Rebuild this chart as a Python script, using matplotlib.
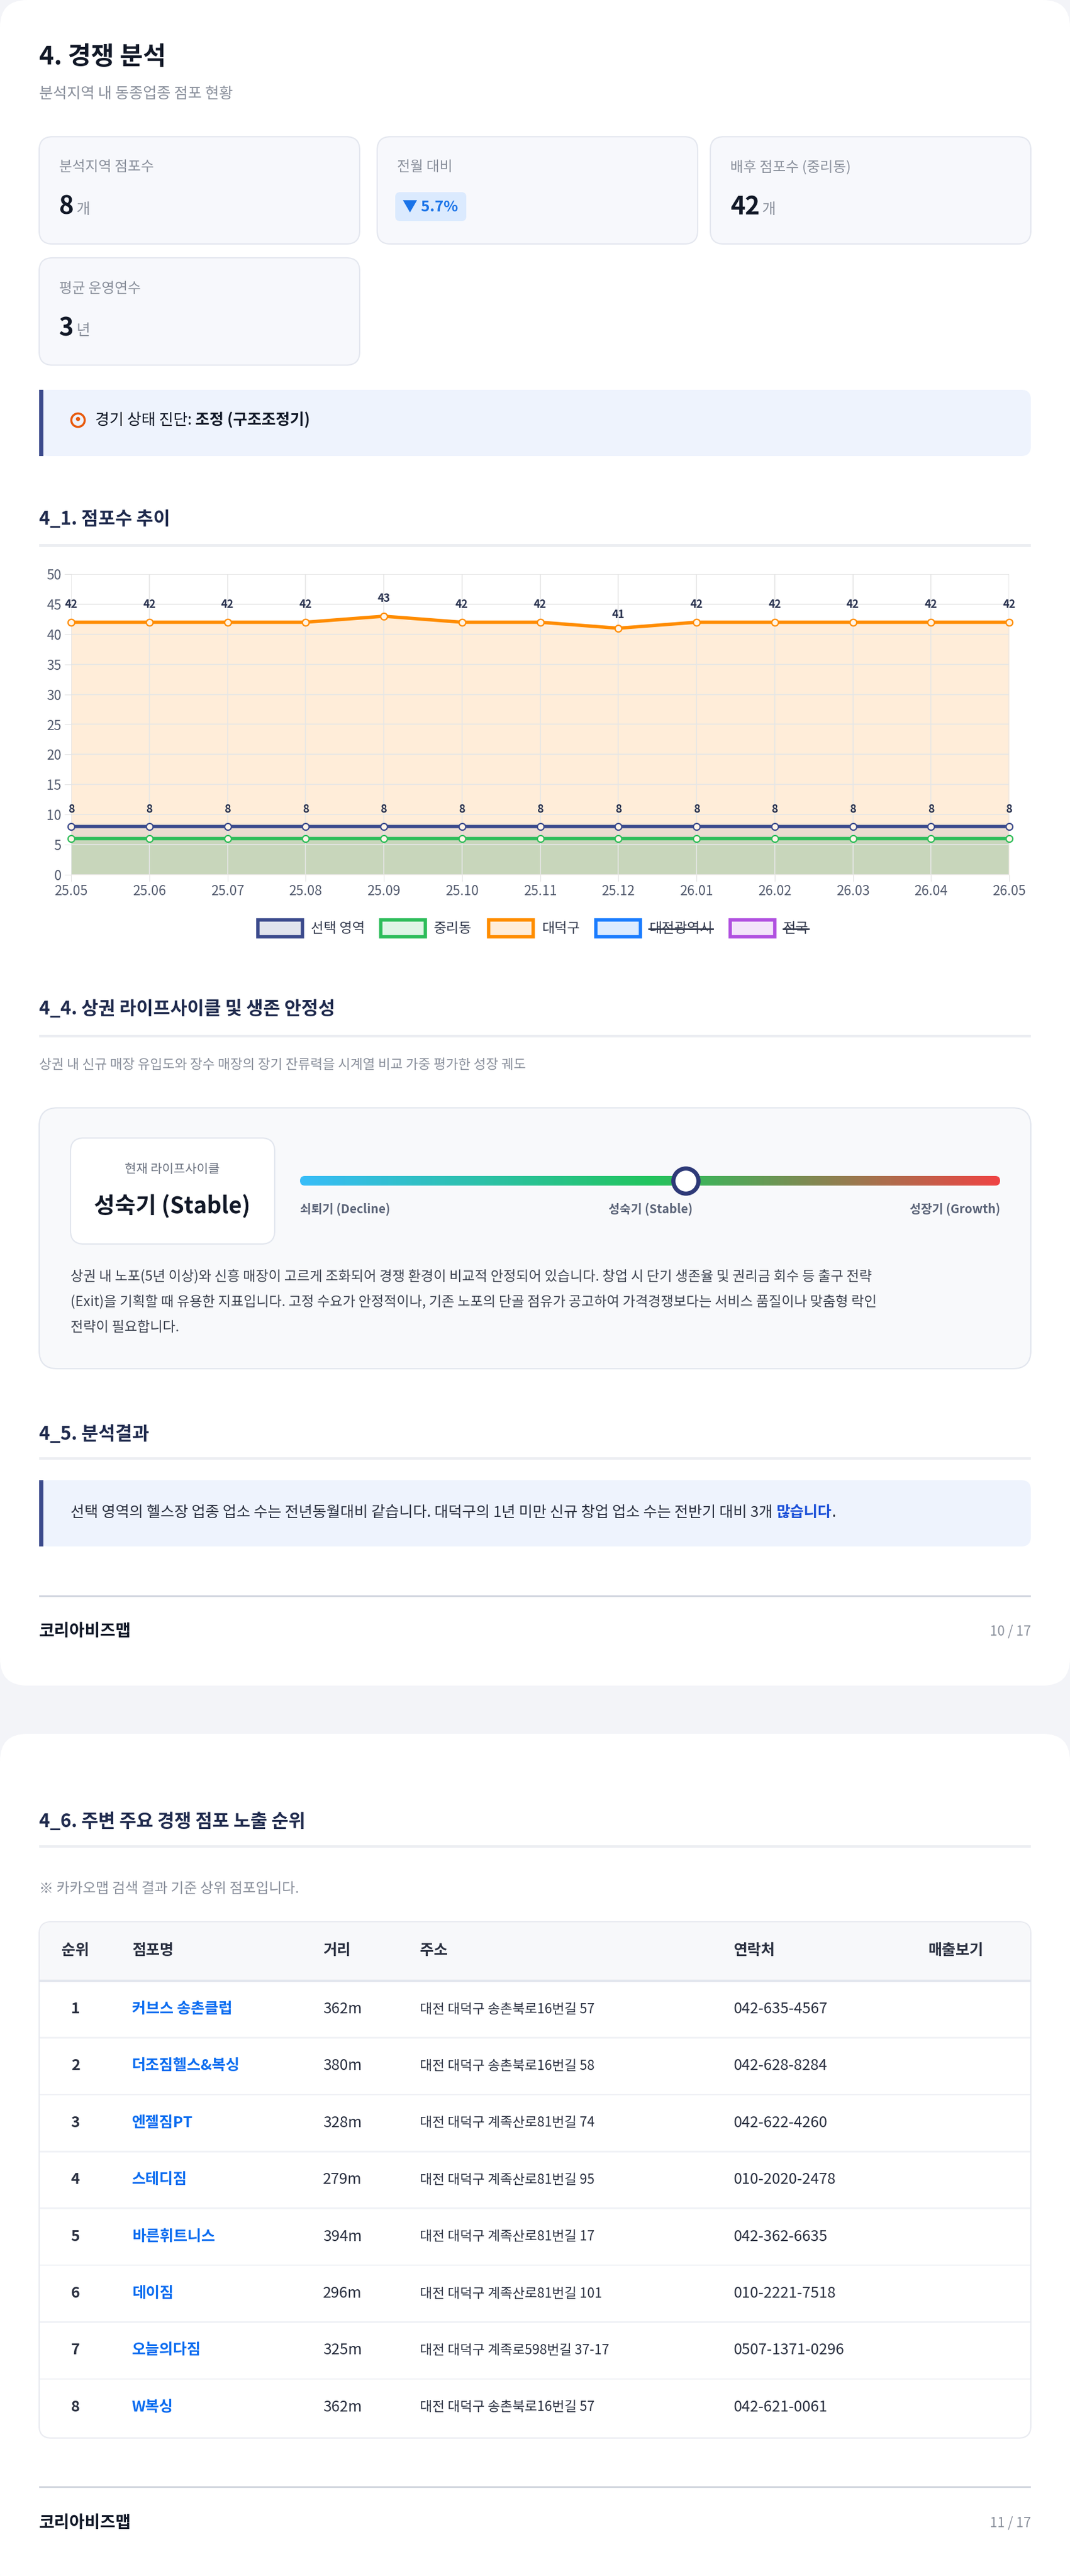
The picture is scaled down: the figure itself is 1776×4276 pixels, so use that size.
import matplotlib
matplotlib.use('Agg')
import matplotlib.pyplot as plt
import numpy as np
from matplotlib.patches import FancyBboxPatch, Rectangle
from matplotlib.colors import LinearSegmentedColormap

plt.rcParams['font.family'] = ['Noto Sans CJK KR', 'DejaVu Sans']

# ---- data ----
months = ['25.05', '25.06', '25.07', '25.08', '25.09', '25.10', '25.11',
          '25.12', '26.01', '26.02', '26.03', '26.04', '26.05']
sel_area = [8, 8, 8, 8, 8, 8, 8, 8, 8, 8, 8, 8, 8]
jungri = [6, 6, 6, 6, 6, 6, 6, 6, 6, 6, 6, 6, 6]
daedeok = [42, 42, 42, 42, 43, 42, 42, 41, 42, 42, 42, 42, 42]
legend_names = ['선택 영역', '중리동', '대덕구', '대전광역시', '전국']
legend_colors = ['#3b4a8c', '#2dbd5a', '#ff8c00', '#1a7cff', '#b050e0']
legend_hidden = [False, False, False, True, True]

kpi_labels = ['분석지역 점포수', '전월 대비', '배후 점포수 (중리동)', '평균 운영연수']
kpi_values = ['8', '5.7%', '42', '3']
kpi_units = ['개', '', '개', '년']

ranks = [1, 2, 3, 4, 5, 6, 7, 8]
shop_names = ['커브스 송촌클럽', '더조짐헬스&복싱', '엔젤짐PT', '스테디짐', '바른휘트니스',
              '데이짐', '오늘의다짐', 'W복싱']
distances = ['362m', '380m', '328m', '279m', '394m', '296m', '325m', '362m']
addresses = ['대전 대덕구 송촌북로16번길 57', '대전 대덕구 송촌북로16번길 58',
             '대전 대덕구 계족산로81번길 74', '대전 대덕구 계족산로81번길 95',
             '대전 대덕구 계족산로81번길 17', '대전 대덕구 계족산로81번길 101',
             '대전 대덕구 계족로598번길 37-17', '대전 대덕구 송촌북로16번길 57']
phones = ['042-635-4567', '042-628-8284', '042-622-4260', '010-2020-2478',
          '042-362-6635', '010-2221-7518', '0507-1371-0296', '042-621-0061']
table_headers = ['순위', '점포명', '거리', '주소', '연락처', '매출보기']

W, H = 1776, 4276
NAVY = '#1f2a4d'
GRAY = '#8a909c'
DARK = '#111827'

fig = plt.figure(figsize=(W / 100, H / 100), dpi=100)
fig.patch.set_facecolor('#f3f4f8')
bg = fig.add_axes([0, 0, 1, 1])
bg.set_xlim(0, W)
bg.set_ylim(H, 0)
bg.axis('off')
fig.canvas.draw()
rend = fig.canvas.get_renderer()


def box(x, y, w, h, fc, ec='none', r=20, lw=1.5, z=1):
    p = FancyBboxPatch((x, y), w, h, boxstyle=f'round,pad=0,rounding_size={r}',
                       fc=fc, ec=ec, lw=lw, zorder=z)
    bg.add_patch(p)


def txt(x, y, s, size=18, color=DARK, weight='normal', ha='left', z=5):
    return bg.text(x, y, s, fontsize=size, color=color, fontweight=weight,
                   ha=ha, va='center', zorder=z)


def width(t):
    return t.get_window_extent(rend).width


# page cards
box(0, 0, W, 2798, 'white', r=45)
box(0, 2878, W, 1440, 'white', r=45)

# header
txt(65, 95, '4. 경쟁 분석', 30, DARK, 'bold')
txt(65, 156, '분석지역 내 동종업종 점포 현황', 18, GRAY)

# KPI cards
kpi_pos = [(65, 227), (626, 227), (1179, 227), (65, 428)]
for i, (x, y) in enumerate(kpi_pos):
    box(x, y, 532, 178, '#f7f8fc', '#e4e7ef', r=22)
    txt(x + 33, y + 51, kpi_labels[i], 17, GRAY)
    if i == 1:
        box(x + 30, y + 92, 118, 48, '#dbeafe', r=8, z=3)
        txt(x + 42, y + 117, '▼ ' + kpi_values[i], 18, '#1a73e8', 'bold')
    else:
        t = txt(x + 33, y + 117, kpi_values[i], 30, DARK, 'bold')
        txt(x + 33 + width(t) + 4, y + 121, kpi_units[i], 18, GRAY)

# alert box
box(65, 647, 1646, 110, '#eef3fd', r=16)
bg.add_patch(Rectangle((65, 647), 7, 110, fc='#3b4a8c', zorder=3))
bg.plot([129], [697], marker='o', ms=16, mfc='none', mec='#e8590c', mew=2.5, zorder=5)
bg.plot([129], [695], marker='o', ms=4, mfc='#e8590c', mec='#e8590c', zorder=5)
t = txt(158, 698, '경기 상태 진단: ', 18.5, DARK)
txt(158 + width(t), 698, '조정 (구조조정기)', 18.5, DARK, 'bold')

# section 4_1
txt(65, 862, '4_1. 점포수 추이', 22, NAVY, 'bold')
bg.add_patch(Rectangle((65, 903), 1646, 5, fc='#eceef2', zorder=2))

# chart
x0, x1, yt, yb = 118, 1675, 953, 1452
ax = fig.add_axes([x0 / W, 1 - yb / H, (x1 - x0) / W, (yb - yt) / H])
ax.set_facecolor('none')
xs = np.arange(len(months))
ax.fill_between(xs, daedeok, 0, color='#ff8c00', alpha=0.15, lw=0, zorder=1)
ax.fill_between(xs, sel_area, 0, color='#3b4a8c', alpha=0.10, lw=0, zorder=1)
ax.fill_between(xs, jungri, 0, color='#2dbd5a', alpha=0.18, lw=0, zorder=1)
for vals, c in [(daedeok, '#ff8c00'), (jungri, '#2dbd5a'), (sel_area, '#3b4a8c')]:
    ax.plot(xs, vals, color=c, lw=4, marker='o', ms=8, mfc='#fff5e8', mec=c,
            mew=1.6, zorder=4, clip_on=False)
for i, v in enumerate(daedeok):
    ax.annotate(str(v), (i, v), xytext=(0, 17 if v >= 42 else 12),
                textcoords='offset points', ha='center', fontsize=13,
                color='#2a3350', fontweight='bold')
for i, v in enumerate(sel_area):
    ax.annotate(str(v), (i, v), xytext=(0, 17), textcoords='offset points',
                ha='center', fontsize=13, color='#2a3350', fontweight='bold')
ax.set_xlim(0, len(months) - 1)
ax.set_ylim(0, 50)
ax.set_yticks(range(0, 51, 5))
ax.set_xticks(xs)
ax.set_xticklabels(months)
ax.tick_params(labelsize=16, colors='#555d70', length=8, color='#e3e3e3')
ax.grid(color='#e6e6e6', lw=1.2)
for s in ax.spines.values():
    s.set_visible(False)

# legend
leg_x = [428, 632, 811, 989, 1212]
for lx, name, c, hid in zip(leg_x, legend_names, legend_colors, legend_hidden):
    bg.add_patch(Rectangle((lx, 1527), 74, 28, fc='white', ec=c, lw=4, zorder=3))
    bg.add_patch(Rectangle((lx, 1527), 74, 28, fc=c, alpha=0.15, lw=0, zorder=3))
    t = txt(lx + 88, 1541, name, 16.5, '#333a4d')
    if hid:
        bg.plot([lx + 88, lx + 88 + width(t)], [1542, 1542], color='#333a4d', lw=2, zorder=6)

# section 4_4
txt(65, 1675, '4_4. 상권 라이프사이클 및 생존 안정성', 22, NAVY, 'bold')
bg.add_patch(Rectangle((65, 1718), 1646, 4, fc='#eceef2', zorder=2))
txt(65, 1768, '상권 내 신규 매장 유입도와 장수 매장의 장기 잔류력을 시계열 비교 가중 평가한 성장 궤도', 16, GRAY)

box(65, 1839, 1646, 433, '#f8f9fb', '#e2e6ee', r=30)
box(117, 1889, 339, 176, 'white', '#e2e6ee', r=22, z=2)
txt(286, 1941, '현재 라이프사이클', 15, '#6b7280', ha='center')
txt(286, 2002, '성숙기 (Stable)', 27, DARK, 'bold', ha='center')

cmap = LinearSegmentedColormap.from_list('lc', ['#38bdf8', '#22c55e', '#ef4444'])
gx0, gx1, gy = 498, 1660, 1960
grad = np.linspace(0, 1, 400).reshape(1, -1)
im = bg.imshow(grad, cmap=cmap, extent=(gx0, gx1, gy + 8, gy - 8), aspect='auto', zorder=3)
clip = FancyBboxPatch((gx0, gy - 8), gx1 - gx0, 16, boxstyle='round,pad=0,rounding_size=8',
                      fc='none', ec='none', transform=bg.transData)
bg.add_patch(clip)
im.set_clip_path(clip)
bg.set_xlim(0, W)
bg.set_ylim(H, 0)
bg.plot([1138], [1960], marker='o', ms=30, mfc='white', mec='#2e3a78', mew=5, zorder=6)
txt(gx0, 2007, '쇠퇴기 (Decline)', 14.5, '#5b6478', 'bold')
txt(1080, 2007, '성숙기 (Stable)', 14.5, '#5b6478', 'bold', ha='center')
txt(gx1, 2007, '성장기 (Growth)', 14.5, '#5b6478', 'bold', ha='right')
para = ['상권 내 노포(5년 이상)와 신흥 매장이 고르게 조화되어 경쟁 환경이 비교적 안정되어 있습니다. 창업 시 단기 생존율 및 권리금 회수 등 출구 전략',
        '(Exit)을 기획할 때 유용한 지표입니다. 고정 수요가 안정적이나, 기존 노포의 단골 점유가 공고하여 가격경쟁보다는 서비스 품질이나 맞춤형 락인',
        '전략이 필요합니다.']
for k, line in enumerate(para):
    txt(117, 2119 + k * 42, line, 16.5, '#3f4552')

# section 4_5
txt(65, 2381, '4_5. 분석결과', 22, NAVY, 'bold')
bg.add_patch(Rectangle((65, 2419), 1646, 4, fc='#eceef2', zorder=2))
box(65, 2457, 1646, 110, '#eef3fd', r=16)
bg.add_patch(Rectangle((65, 2457), 7, 110, fc='#3b4a8c', zorder=3))
t = txt(117, 2511, '선택 영역의 헬스장 업종 업소 수는 전년동월대비 같습니다. 대덕구의 1년 미만 신규 창업 업소 수는 전반기 대비 3개 ', 18, '#2a3040')
w1 = width(t)
t2 = txt(117 + w1, 2511, '많습니다', 18, '#1a4fd8', 'bold')
txt(117 + w1 + width(t2), 2511, '.', 18, '#2a3040')

# footer 1
bg.add_patch(Rectangle((65, 2648), 1646, 3, fc='#d3d7e0', zorder=2))
txt(65, 2708, '코리아비즈맵', 20, DARK, 'bold')
txt(1711, 2708, '10 / 17', 16, GRAY, ha='right')

# section 4_6
txt(65, 3024, '4_6. 주변 주요 경쟁 점포 노출 순위', 22, NAVY, 'bold')
bg.add_patch(Rectangle((65, 3063), 1646, 4, fc='#eceef2', zorder=2))
txt(65, 3136, '※ 카카오맵 검색 결과 기준 상위 점포입니다.', 17, GRAY)

tt, tb = 3190, 4047
box(65, tt, 1646, tb - tt, 'white', '#e8eaf0', r=20)
bg.add_patch(FancyBboxPatch((66, tt + 1), 1644, 96, boxstyle='round,pad=0,rounding_size=19',
                            fc='#f7f8fa', ec='none', zorder=2))
bg.add_patch(Rectangle((66, tt + 60), 1644, 38, fc='#f7f8fa', zorder=2))
bg.add_patch(Rectangle((65, 3286), 1646, 4, fc='#e2e6ee', zorder=3))
col_x = [125, 219, 536, 697, 1218, 1540]
for j, h in enumerate(table_headers):
    txt(col_x[j], 3238, h, 18, '#2a3040', 'semibold', ha='center' if j == 0 else 'left')
row_h = 94.4
for i in range(len(ranks)):
    yc = 3335 + i * row_h
    if i > 0:
        bg.add_patch(Rectangle((66, yc - row_h / 2 - 1), 1644, 2.5, fc='#f0f2f6', zorder=3))
    txt(col_x[0], yc, str(ranks[i]), 18, '#2a3040', 'bold', ha='center')
    txt(col_x[1], yc, shop_names[i], 18, '#0a6cf0', 'bold')
    txt(col_x[2], yc, distances[i], 18, '#2a3040')
    txt(col_x[3], yc, addresses[i], 16, '#2a3040')
    txt(col_x[4], yc, phones[i], 18, '#2a3040')

# footer 2
bg.add_patch(Rectangle((65, 4127), 1646, 3, fc='#d3d7e0', zorder=2))
txt(65, 4188, '코리아비즈맵', 20, DARK, 'bold')
txt(1711, 4188, '11 / 17', 16, GRAY, ha='right')

fig.savefig('out.png', dpi=100, facecolor=fig.get_facecolor())
